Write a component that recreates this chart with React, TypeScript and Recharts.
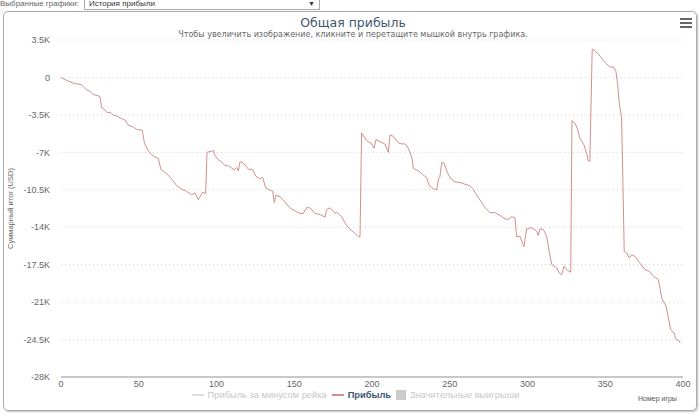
import { LineChart, Line, XAxis, YAxis, CartesianGrid } from 'recharts'

// game number -> cumulative profit (USD)
const gameNumbers = [
  0, 4.7, 7.9, 10.1, 12.9, 14.4, 16.5, 18.6, 20.8, 24, 25.1, 26.1, 28.3, 29.8, 31.5, 33.7, 35.8, 39, 41.1, 43.3,
  46.5, 48.7, 52.3, 53.6, 56.2, 59.4, 62.6, 64.3, 68, 71.2, 74.4, 77.6, 80.8, 84, 86.2, 88.3, 91.1, 93, 93.9, 96.9,
  98, 99, 101.2, 103.3, 105.5, 107.6, 109.8, 111.3, 113, 114.1, 115.1, 117.3, 120.5, 123.3, 125.4, 127.6, 129.7, 131.6, 134.4, 136.1,
  137.2, 138.2, 140.8, 144, 147.2, 150.5, 153.7, 155.8, 157.9, 160.1, 163.3, 166.6, 169.8, 170.8, 173, 175.1, 176.2, 177.3, 180.5, 182.6,
  184.8, 188, 190.6, 192.3, 193.3, 196.6, 199.8, 201.3, 202.6, 205.2, 208.3, 210.5, 211.6, 213.7, 217, 219.1, 221.4, 223.4, 225.6, 226.6,
  229.8, 233, 235.1, 236.9, 239.4, 241.6, 242.7, 243.7, 244.8, 246.3, 248.4, 250.6, 253.4, 256.6, 259.8, 263, 265.2, 267.3, 270.6, 272.7,
  275.9, 279.1, 282.3, 285.5, 287.7, 289.8, 292, 293, 295.1, 297.7, 299.4, 302.6, 305.9, 306.9, 308, 310.2, 312.3, 314.1, 315.6, 318.8,
  320.5, 322, 323.5, 325.2, 327.8, 328.6, 330.5, 332, 333.7, 336.3, 338, 339, 340.1, 341.6, 343.4, 346.1, 348.7, 350.9, 353, 355.2,
  356.9, 357.9, 359, 360.5, 361.2, 362.2, 363.8, 365.5, 367, 369.1, 371.9, 375.6, 378.4, 381, 384.2, 386.3, 389.1, 392.1, 394.2, 395.5,
  397.7, 398.1,
]

const profitUsd = [
  0, -345, -530, -600, -660, -850, -1160, -1315, -1600, -1720, -1790, -2820, -3040, -3290, -3260, -3540, -3600, -3855, -3980, -4450,
  -4640, -4860, -4950, -6110, -6895, -7365, -7585, -8620, -9000, -9500, -10120, -10440, -10655, -10970, -10810, -11440, -10720, -10875, -6990, -6900,
  -6810, -7310, -7690, -7880, -8255, -8255, -8475, -8630, -8410, -8730, -7880, -8005, -8570, -8630, -9260, -9450, -9355, -10300, -10545, -10610,
  -11710, -11020, -11145, -11650, -12180, -12490, -12710, -12710, -12180, -12180, -12710, -12810, -13060, -12340, -12180, -12490, -12710, -12590, -13030, -13590,
  -14060, -14440, -14785, -14910, -5180, -5900, -6215, -6620, -5810, -6000, -6215, -7000, -5370, -5500, -6120, -6215, -6215, -6620, -7470, -8500,
  -8720, -9130, -9350, -10130, -10385, -10510, -9500, -9260, -7940, -8000, -8880, -9450, -9760, -9820, -9980, -10130, -10450, -11010, -11700, -12170,
  -12640, -12640, -12890, -13200, -13270, -13020, -13110, -14900, -14840, -15840, -14150, -14050, -14360, -14770, -14150, -14210, -14840, -16400, -17500, -17810,
  -18300, -18430, -17650, -17970, -18210, -4030, -4280, -4740, -5680, -6300, -7080, -7760, -7860, 2630, 2500, 2100, 1570, 1260, 950, 1010,
  545, -540, -2410, -3810, -8630, -16250, -16410, -16880, -16570, -16720, -17280, -17970, -18120, -18590, -18900, -20610, -21390, -23570, -23880, -24500,
  -24650, -24810,
]

const xTicks = [0, 50, 100, 150, 200, 250, 300, 350, 400]
const yTicks = [3500, 0, -3500, -7000, -10500, -14000, -17500, -21000, -24500, -28000]

const data = gameNumbers.map((g, i) => ({ game: g, profit: profitUsd[i] }))

const fmtK = (v: number) => (v === 0 ? '0' : `${v / 1000}K`)

const tickStyle = { fontSize: 9, fill: '#666', fontFamily: 'Liberation Sans' }

function LegendItem({ color, label, bold, square }: { color: string; label: string; bold?: boolean; square?: boolean }) {
  return (
    <span style={{ display: 'inline-flex', alignItems: 'center', marginRight: 5 }}>
      {square ? (
        <span style={{ width: 10, height: 10, background: '#ccc', marginRight: 4 }} />
      ) : (
        <span style={{ width: 12, height: 2, background: color, marginRight: 4 }} />
      )}
      <span style={{ color: bold ? '#3e576f' : '#c8c8c8', fontWeight: bold ? 600 : 'normal' }}>{label}</span>
    </span>
  )
}

export default function App() {
  return (
    <div style={{ position: 'absolute', left: 0, top: 0, width: 700, height: 416, background: '#fff', overflow: 'hidden' }}>
      <div style={{ position: 'absolute', left: 0, top: -3, fontFamily: 'Liberation Sans', fontSize: 8, color: '#666', display: 'flex', alignItems: 'center' }}>
        <span>Выбранные графики:</span>
        <span style={{ marginLeft: 5, width: 226, height: 11, border: '1px solid #aaa', display: 'flex', alignItems: 'center', justifyContent: 'space-between', padding: '0 4px', color: '#333' }}>
          <span>История прибыли</span>
          <span style={{ fontSize: 7 }}>▼</span>
        </span>
      </div>
      <div style={{ position: 'absolute', left: 3, top: 11, width: 692, height: 398, border: '1px solid #aaa', borderRadius: 5, boxShadow: '1px 1px 2px rgba(0,0,0,0.25)' }} />
      <div style={{ position: 'absolute', left: 0, width: 706, top: 15, textAlign: 'center', fontFamily: 'DejaVu Sans', fontSize: 12.5, color: '#3e576f' }}>
        Общая прибыль
      </div>
      <div style={{ position: 'absolute', left: 0, width: 706, top: 30, textAlign: 'center', fontFamily: 'DejaVu Sans', fontSize: 8, color: '#666' }}>
        Чтобы увеличить изображение, кликните и перетащите мышкой внутрь графика.
      </div>
      <div style={{ position: 'absolute', left: 680, top: 18 }}>
        {[0, 1, 2].map(i => (
          <div key={i} style={{ width: 12, height: 2, background: '#666', marginBottom: 2 }} />
        ))}
      </div>
      <div style={{ position: 'absolute', left: 0, top: 0 }}>
        <LineChart width={700} height={416} data={data} margin={{ top: 40, right: 17, bottom: 9, left: 0 }}>
          <CartesianGrid horizontal vertical={false} stroke="#d0d0d0" strokeDasharray="1 3" />
          <XAxis
            dataKey="game"
            type="number"
            domain={[0, 400]}
            ticks={xTicks}
            tick={tickStyle}
            tickSize={3}
            tickMargin={1}
            axisLine={{ stroke: '#c8c8c8', strokeWidth: 2 }}
            tickLine={false}
            height={30}
          />
          <YAxis
            type="number"
            domain={[-28000, 3500]}
            ticks={yTicks}
            tickFormatter={fmtK}
            tick={tickStyle}
            tickMargin={5}
            axisLine={false}
            tickLine={false}
            width={61}
            label={{
              value: 'Суммарный итог (USD)',
              angle: -90,
              position: 'insideLeft',
              offset: 10,
              style: { fontSize: 7.5, fill: '#666', fontFamily: 'Liberation Sans', textAnchor: 'middle' },
            }}
          />
          <Line
            type="linear"
            dataKey="profit"
            stroke="#d48e8e"
            strokeWidth={1}
            dot={false}
            isAnimationActive={false}
          />
        </LineChart>
      </div>
      <div style={{ position: 'absolute', left: 0, width: 716, top: 390, display: 'flex', justifyContent: 'center', fontFamily: 'Liberation Sans', fontSize: 9.3 }}>
        <LegendItem color="#ddd" label="Прибыль за минусом рейка" />
        <LegendItem color="#d48e8e" label="Прибыль" bold />
        <LegendItem color="#ccc" label="Значительные выигрыши" square />
      </div>
      <div style={{ position: 'absolute', left: 638, top: 395, fontFamily: 'Liberation Sans', fontSize: 7, color: '#555' }}>
        Номер игры
      </div>
    </div>
  )
}
